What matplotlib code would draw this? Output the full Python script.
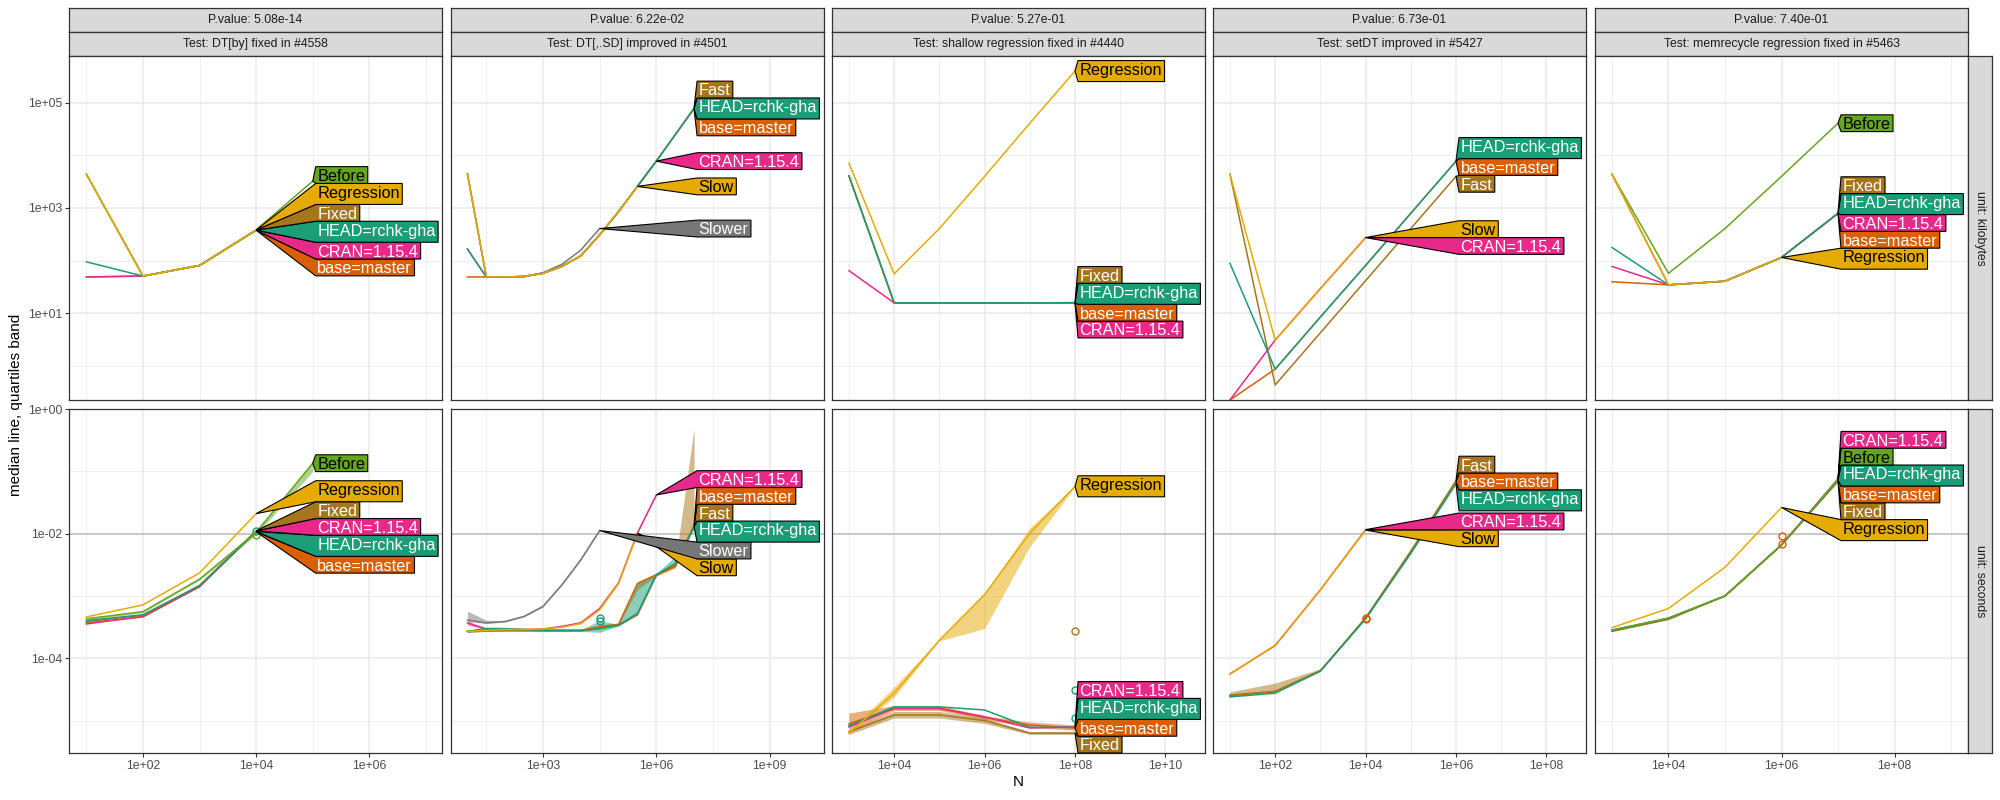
import matplotlib.pyplot as plt
from matplotlib.patches import Polygon
from matplotlib.ticker import FixedLocator, FuncFormatter
import numpy as np

plt.rcParams['font.family'] = ['Liberation Sans', 'DejaVu Sans']

# ---- data ----
tests = ["DT[by] fixed in #4558", "DT[,.SD] improved in #4501",
         "shallow regression fixed in #4440", "setDT improved in #5427",
         "memrecycle regression fixed in #5463"]
p_values = ["5.08e-14", "6.22e-02", "5.27e-01", "6.73e-01", "7.40e-01"]
units = ["kilobytes", "seconds"]

colors = {
    "HEAD=rchk-gha": "#1B9E77", "base=master": "#D95F02", "CRAN=1.15.4": "#E7298A",
    "Before": "#66A61E", "Regression": "#E6AB02", "Slow": "#E6AB02",
    "Fixed": "#A6761D", "Fast": "#A6761D", "Slower": "#777777",
}
dark_text = ["Before", "Regression", "Slow"]
order = ["base=master", "CRAN=1.15.4", "Fixed", "Fast", "HEAD=rchk-gha",
         "Before", "Slower", "Slow", "Regression"]

# test 1: DT[by]
N_by = [1e1, 1e2, 1e3, 1e4, 1e5]
kb_by = {
    "Before": [4400, 51, 81, 385, 3240],
    "Regression": [4400, 51, 81, 382],
    "Fixed": [4400, 51, 81, 381],
    "HEAD=rchk-gha": [95, 51, 81, 380],
    "CRAN=1.15.4": [49, 51, 81, 379],
    "base=master": [49, 51, 81, 378],
}
sec_by = {
    "Before": [4.3e-4, 5.6e-4, 1.86e-3, 1.05e-2, 0.135],
    "Regression": [4.6e-4, 7.2e-4, 2.34e-3, 2.09e-2],
    "Fixed": [3.9e-4, 4.9e-4, 1.48e-3, 1.11e-2],
    "CRAN=1.15.4": [3.55e-4, 4.7e-4, 1.41e-3, 1.10e-2],
    "HEAD=rchk-gha": [4.0e-4, 5.0e-4, 1.45e-3, 1.08e-2],
    "base=master": [3.7e-4, 4.6e-4, 1.41e-3, 1.07e-2],
}
band_by = {"Before": ([4.1e-4, 5.4e-4, 1.8e-3, 9.6e-3, 0.100],
                      [4.4e-4, 5.8e-4, 1.9e-3, 1.1e-2, 0.143])}
pts_by = {"HEAD=rchk-gha": ([1e4], [1.1e-2]), "Before": ([1e4], [9.5e-3])}

# test 2: DT[,.SD]
N_sd = [1e1, 3.16e1, 1e2, 3.16e2, 1e3, 3.16e3, 1e4, 3.16e4, 1e5, 3.16e5, 1e6, 3.16e6, 1e7]
kb_sd = {
    "Fast": [4470, 49, 49, 50, 57.5, 77.6, 123, 309, 851, 2570, 7760, 24500, 79400],
    "HEAD=rchk-gha": [166, 49, 49, 50, 57.5, 77.6, 123, 309, 851, 2570, 7760, 24500, 77600],
    "base=master": [49, 49, 49, 50, 57.5, 77.6, 123, 309, 851, 2570, 7760, 24500, 75900],
    "CRAN=1.15.4": [166, 49, 49, 50, 57.5, 77.6, 123, 309, 851, 2570, 7760],
    "Slow": [4470, 49, 49, 50, 57.5, 77.6, 123, 309, 851, 2570],
    "Slower": [4470, 49, 49, 50, 59, 85, 158, 407],
}
sec_sd = {
    "CRAN=1.15.4": [3.7e-4, 2.95e-4, 2.9e-4, 2.9e-4, 2.95e-4, 3.25e-4, 3.7e-4, 6.3e-4, 1.62e-3, 1.02e-2, 4.17e-2],
    "Slow": [2.7e-4, 2.8e-4, 2.9e-4, 2.9e-4, 2.95e-4, 3.15e-4, 3.6e-4, 6.0e-4, 1.58e-3, 1.02e-2],
    "Slower": [4.1e-4, 3.7e-4, 3.9e-4, 4.7e-4, 6.8e-4, 1.51e-3, 3.8e-3, 1.12e-2],
    "HEAD=rchk-gha": [2.7e-4, 3.0e-4, 3.0e-4, 2.9e-4, 2.8e-4, 2.8e-4, 2.8e-4, 3.0e-4, 3.4e-4, 5.25e-4, 2.19e-3, 3.3e-3, 1.29e-2],
    "base=master": [2.7e-4, 2.8e-4, 2.8e-4, 2.8e-4, 2.8e-4, 2.8e-4, 2.8e-4, 3.2e-4, 3.5e-4, 1.58e-3, 2.19e-3, 2.95e-3, 1.35e-2],
    "Fast": [2.7e-4, 2.75e-4, 2.8e-4, 2.8e-4, 2.8e-4, 2.8e-4, 2.8e-4, 3.0e-4, 3.4e-4, 5.0e-4, 2.19e-3, 3.16e-3, 1.32e-2],
}
band_sd = {
    "Fast": ([2.6e-4, 2.7e-4, 2.75e-4, 2.75e-4, 2.75e-4, 2.75e-4, 2.75e-4, 2.95e-4, 3.3e-4, 4.9e-4, 2.1e-3, 3.0e-3, 1.2e-2],
             [2.8e-4, 2.8e-4, 2.85e-4, 2.85e-4, 2.85e-4, 2.85e-4, 2.85e-4, 3.1e-4, 3.5e-4, 5.2e-4, 2.3e-3, 3.3e-3, 0.49]),
    "HEAD=rchk-gha": ([2.6e-4, 2.9e-4, 2.9e-4, 2.8e-4, 2.7e-4, 2.7e-4, 2.7e-4, 2.6e-4, 3.3e-4, 5.0e-4, 2.1e-3, 3.2e-3, 1.25e-2],
                      [2.8e-4, 3.1e-4, 3.1e-4, 3.0e-4, 2.9e-4, 2.9e-4, 2.9e-4, 4.0e-4, 3.5e-4, 1.58e-3, 2.3e-3, 4.3e-3, 1.33e-2]),
    "base=master": ([2.6e-4, 2.7e-4, 2.7e-4, 2.7e-4, 2.7e-4, 2.7e-4, 2.7e-4, 3.0e-4, 3.4e-4, 1.26e-3, 2.1e-3, 2.8e-3, 1.3e-2],
                    [2.8e-4, 2.9e-4, 2.9e-4, 2.9e-4, 2.9e-4, 2.9e-4, 2.9e-4, 3.4e-4, 3.7e-4, 1.7e-3, 2.3e-3, 3.1e-3, 1.4e-2]),
    "Slower": ([3.9e-4, 3.6e-4, 3.8e-4, 4.6e-4, 6.6e-4, 1.48e-3, 3.7e-3, 1.1e-2],
               [5.7e-4, 4.1e-4, 4.0e-4, 4.8e-4, 7.0e-4, 1.55e-3, 3.9e-3, 1.15e-2]),
    "CRAN=1.15.4": ([3.4e-4, 2.9e-4, 2.85e-4, 2.85e-4, 2.9e-4, 3.2e-4, 3.6e-4, 6.1e-4, 1.58e-3, 1.0e-2, 4.1e-2],
                    [4.0e-4, 3.0e-4, 2.95e-4, 2.95e-4, 3.0e-4, 3.3e-4, 3.8e-4, 6.5e-4, 1.66e-3, 1.04e-2, 4.25e-2]),
}
pts_sd = {"HEAD=rchk-gha": ([3.16e4, 3.16e4], [4.5e-4, 3.9e-4])}

# test 3: shallow regression
N_sh = [1e3, 1e4, 1e5, 1e6, 1e7, 1e8]
kb_sh = {
    "Regression": [7080, 56, 407, 3980, 40700, 398000],
    "Fixed": [4070, 15.8, 15.8, 15.8, 15.8, 15.95],
    "HEAD=rchk-gha": [4070, 15.8, 15.8, 15.8, 15.8, 15.9],
    "base=master": [4070, 15.8, 15.8, 15.8, 15.8, 15.85],
    "CRAN=1.15.4": [64.6, 15.8, 15.8, 15.8, 15.8, 15.8],
}
sec_sh = {
    "Regression": [6.3e-6, 2.75e-5, 1.95e-4, 1.05e-3, 1.02e-2, 5.75e-2],
    "CRAN=1.15.4": [7.9e-6, 1.58e-5, 1.58e-5, 1.15e-5, 7.6e-6, 7.94e-6],
    "HEAD=rchk-gha": [8.3e-6, 1.66e-5, 1.66e-5, 1.48e-5, 7.8e-6, 7.76e-6],
    "base=master": [8.9e-6, 1.55e-5, 1.55e-5, 1.12e-5, 8.5e-6, 7.59e-6],
    "Fixed": [6.6e-6, 1.23e-5, 1.23e-5, 1.0e-5, 6.3e-6, 6.31e-6],
}
band_sh = {
    "Regression": ([6.0e-6, 2.4e-5, 1.9e-4, 3.0e-4, 6.2e-3, 5.6e-2],
                   [6.6e-6, 3.5e-5, 2.0e-4, 1.1e-3, 1.23e-2, 5.9e-2]),
    "base=master": ([6.5e-6, 1.45e-5, 1.45e-5, 1.05e-5, 7.8e-6, 7.0e-6],
                    [1.32e-5, 1.75e-5, 1.75e-5, 1.2e-5, 9.5e-6, 8.5e-6]),
    "Fixed": ([6.0e-6, 1.1e-5, 1.1e-5, 9.0e-6, 6.0e-6, 6.0e-6],
              [7.0e-6, 1.4e-5, 1.4e-5, 1.1e-5, 6.6e-6, 6.6e-6]),
}
pts_sh = {"Fixed": ([1e8], [2.7e-4]), "HEAD=rchk-gha": ([1e8, 1e8], [3.1e-5, 1.12e-5])}

# test 4: setDT
N_set = [1e1, 1e2, 1e3, 1e4, 1e5, 1e6]
kb_set = {
    "Slow": [4370, 3.1, 29.5, 275],
    "CRAN=1.15.4": [0.226, 3.1, 29.5, 274],
    "HEAD=rchk-gha": [89, 0.87, 8.5, 81, 794, 7760],
    "base=master": [0.226, 0.87, 8.5, 81, 794, 7700],
    "Fast": [4370, 0.436, 4.27, 41.7, 407, 3980],
}
sec_set = {
    "Slow": [5.6e-5, 1.62e-4, 1.26e-3, 1.14e-2],
    "CRAN=1.15.4": [5.6e-5, 1.6e-4, 1.25e-3, 1.16e-2],
    "HEAD=rchk-gha": [2.4e-5, 2.75e-5, 6.2e-5, 4.27e-4, 4.8e-3, 6.3e-2],
    "base=master": [2.5e-5, 2.9e-5, 6.3e-5, 4.37e-4, 5.0e-3, 6.76e-2],
    "Fast": [2.57e-5, 2.95e-5, 6.3e-5, 4.47e-4, 5.25e-3, 7.08e-2],
}
band_set = {"Fast": ([2.5e-5, 2.9e-5, 6.2e-5, 4.4e-4, 5.2e-3, 7.0e-2],
                     [2.9e-5, 4.0e-5, 6.8e-5, 4.6e-4, 5.4e-3, 7.2e-2])}
pts_set = {"base=master": ([1e4, 1e4], [4.5e-4, 4.2e-4])}

# test 5: memrecycle
N_mem = [1e3, 1e4, 1e5, 1e6, 1e7]
kb_mem = {
    "Before": [4370, 57.5, 407, 3980, 40700],
    "Regression": [4370, 34.7, 40.7, 115],
    "Fixed": [4370, 34.7, 40.7, 115, 800],
    "HEAD=rchk-gha": [178, 34.7, 40.7, 115, 795],
    "CRAN=1.15.4": [77.6, 34.7, 40.7, 115, 790],
    "base=master": [39.8, 34.7, 40.7, 115, 785],
}
sec_mem = {
    "Regression": [3.1e-4, 6.3e-4, 2.88e-3, 2.63e-2],
    "CRAN=1.15.4": [2.8e-4, 4.4e-4, 1.0e-3, 6.6e-3, 7.6e-2],
    "Before": [2.85e-4, 4.4e-4, 1.0e-3, 6.6e-3, 7.4e-2],
    "HEAD=rchk-gha": [2.8e-4, 4.4e-4, 1.0e-3, 6.6e-3, 7.24e-2],
    "base=master": [2.75e-4, 4.3e-4, 1.0e-3, 6.6e-3, 7.08e-2],
    "Fixed": [2.7e-4, 4.2e-4, 1.0e-3, 6.5e-3, 6.9e-2],
}
band_mem = {}
pts_mem = {"base=master": ([1e6, 1e6], [9.1e-3, 6.8e-3])}

panels = [(N_by, kb_by, sec_by, band_by, pts_by),
          (N_sd, kb_sd, sec_sd, band_sd, pts_sd),
          (N_sh, kb_sh, sec_sh, band_sh, pts_sh),
          (N_set, kb_set, sec_set, band_set, pts_set),
          (N_mem, kb_mem, sec_mem, band_mem, pts_mem)]

# ---- layout (pixels of a 2000x800 figure) ----
W, H = 2000, 800
col_x = [69, 451, 832, 1213, 1595]
pw = 373
rows = [(56, 400), (409, 753)]
xlims = [(10**0.693, 10**7.284), (10**0.565, 10**10.44), (10**2.625, 10**10.875),
         (10**0.625, 10**8.875), (10**2.7, 10**9.3)]
xmajor = [[1e2, 1e4, 1e6], [1e3, 1e6, 1e9], [1e4, 1e6, 1e8, 1e10],
          [1e2, 1e4, 1e6, 1e8], [1e4, 1e6, 1e8]]
xminor = [[1e1, 1e3, 1e5, 1e7], [10**1.5, 10**4.5, 10**7.5], [1e3, 1e5, 1e7, 1e9],
          [1e1, 1e3, 1e5, 1e7], [1e3, 1e5, 1e7, 1e9]]
ylims = [(10**-0.646, 10**5.886), (10**-5.52, 10**0.0)]
ymajor = [[1e1, 1e3, 1e5], [1e-4, 1e-2, 1e0]]
yminor = [[1e0, 1e2, 1e4], [1e-5, 1e-3, 1e-1]]

fig = plt.figure(figsize=(20, 8), dpi=100)
renderer = fig.canvas.get_renderer()
fmt = FuncFormatter(lambda v, p: f"{v:.0e}")


def rect(x0, y0, x1, y1):
    return [x0 / W, 1 - y1 / H, (x1 - x0) / W, (y1 - y0) / H]


def strip(x0, y0, x1, y1, text, rot=0):
    s = fig.add_axes(rect(x0, y0, x1, y1))
    s.set_facecolor('#D9D9D9')
    s.set_xticks([])
    s.set_yticks([])
    for sp in s.spines.values():
        sp.set_color('#333333')
        sp.set_linewidth(0.9)
    s.text(0.5, 0.5, text, ha='center', va='center', rotation=rot,
           fontsize=8.8, color='#1A1A1A', transform=s.transAxes)


def place_labels(targets, heights, lo, hi):
    # stack boxes, merging overlapping groups and centring each group on its tips
    clusters = [[i] for i in range(len(targets))]
    while True:
        spans = []
        for cl in clusters:
            hs = np.array([heights[i] for i in cl])
            offs = np.concatenate([[0], np.cumsum(hs)])
            centers = offs[:-1] + hs / 2
            top = np.mean([targets[i] - centers[k] for k, i in enumerate(cl)])
            top = min(max(top, lo), hi - offs[-1])
            spans.append((top, top + offs[-1], offs))
        merged = False
        for j in range(len(clusters) - 1):
            if spans[j][1] > spans[j + 1][0] + 1e-6:
                clusters[j] = clusters[j] + clusters[j + 1]
                del clusters[j + 1]
                merged = True
                break
        if not merged:
            break
    tops = [0] * len(targets)
    for cl, (top, bot, offs) in zip(clusters, spans):
        for k, i in enumerate(cl):
            tops[i] = top + offs[k]
    return tops


for c, (Ns, kb, sec, bands, pts) in enumerate(panels):
    strip(col_x[c], 8, col_x[c] + pw, 32, "P.value: " + p_values[c])
    strip(col_x[c], 32, col_x[c] + pw, 56, "Test: " + tests[c])
    for r, (y0, y1) in enumerate(rows):
        ax = fig.add_axes(rect(col_x[c], y0, col_x[c] + pw, y1))
        data = kb if r == 0 else sec
        ax.set_xscale('log')
        ax.set_yscale('log')
        ax.set_xlim(*xlims[c])
        ax.set_ylim(*ylims[r])
        ax.xaxis.set_major_locator(FixedLocator(xmajor[c]))
        ax.xaxis.set_minor_locator(FixedLocator(xminor[c]))
        ax.yaxis.set_major_locator(FixedLocator(ymajor[r]))
        ax.yaxis.set_minor_locator(FixedLocator(yminor[r]))
        ax.xaxis.set_major_formatter(fmt)
        ax.yaxis.set_major_formatter(fmt)
        ax.xaxis.set_minor_formatter(FuncFormatter(lambda v, p: ""))
        ax.yaxis.set_minor_formatter(FuncFormatter(lambda v, p: ""))
        ax.set_axisbelow(True)
        ax.grid(which='major', color='#EBEBEB', lw=1.2)
        ax.grid(which='minor', color='#EBEBEB', lw=0.6)
        ax.tick_params(which='minor', length=0)
        ax.tick_params(which='major', length=2.75, width=0.8, color='#333333',
                       labelsize=8.8, labelcolor='#4D4D4D', pad=2.2)
        if c > 0:
            ax.tick_params(axis='y', left=False, labelleft=False)
        if r == 0:
            ax.tick_params(axis='x', bottom=False, labelbottom=False)
        for sp in ax.spines.values():
            sp.set_color('#333333')
            sp.set_linewidth(0.9)
        if r == 1:
            ax.axhline(1e-2, color='#BEBEBE', lw=1.1, zorder=1.5)

        for name in order:
            if name not in data:
                continue
            v = data[name]
            if r == 1 and name in bands:
                lo, hi = bands[name]
                ax.fill_between(Ns[:len(lo)], lo, hi, color=colors[name],
                                alpha=0.5, lw=0, zorder=1.8)
            ax.plot(Ns[:len(v)], v, color=colors[name], lw=1.1, zorder=2)
        if r == 1:
            for name, (px, py) in pts.items():
                ax.plot(px, py, 'o', ms=5, mfc='none', mec=colors[name], mew=1, zorder=3)

        # polygon direct labels at the last point of each line
        tips = {}
        for name, v in data.items():
            xd, yd = ax.transData.transform((Ns[len(v) - 1], v[-1]))
            tips[name] = (xd, H - yd)
        names = sorted(tips, key=lambda n: tips[n][1])
        heights = [21 if any(ch in n for ch in 'gjpqy') else 16.8 for n in names]
        tops = place_labels([tips[n][1] for n in names], heights, y0, y1)
        bx = max(t[0] for t in tips.values()) + 3
        inv = ax.transAxes.inverted()

        def to_ax(x, y):
            return inv.transform((x, H - y))

        for k, (n, h, top) in enumerate(zip(names, heights, tops)):
            zo = 6 + (len(names) - k) * 0.01
            tx, ty = to_ax(bx + 1.5, top + 14.3)
            t = ax.text(tx, ty, n, transform=ax.transAxes, fontsize=11.7,
                        color='black' if n in dark_text else 'white',
                        ha='left', va='baseline', zorder=8, clip_on=False)
            w = t.get_window_extent(renderer).width
            poly = [tips[n], (bx, top), (bx + w + 4, top), (bx + w + 4, top + h), (bx, top + h)]
            ax.add_patch(Polygon([to_ax(*p) for p in poly], closed=True,
                                 transform=ax.transAxes, fc=colors[n], ec='black',
                                 lw=0.8, zorder=zo, clip_on=False))

for r, (y0, y1) in enumerate(rows):
    strip(1968, y0, 1992, y1, "unit: " + units[r], rot=-90)

fig.text(16 / W, 1 - 404.5 / H, "median line, quartiles band", rotation=90,
         ha='center', va='center', fontsize=11)
fig.text(1018.5 / W, 1 - 782 / H, "N", ha='center', va='center', fontsize=11)

fig.savefig("out.png", dpi=100)
